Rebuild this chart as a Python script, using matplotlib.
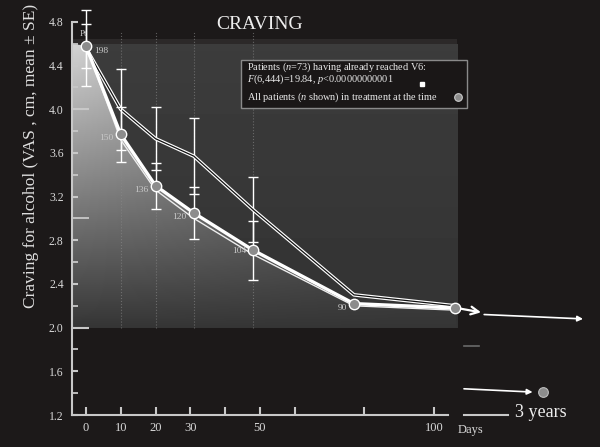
import numpy as np
import matplotlib
matplotlib.use("Agg")
from matplotlib import pyplot as plt
from matplotlib.patches import Polygon, Rectangle

plt.rcParams['font.family'] = ['Liberation Serif', 'DejaVu Serif']
plt.rcParams['mathtext.fontset'] = 'custom'
plt.rcParams['mathtext.it'] = 'Liberation Serif:italic'
plt.rcParams['mathtext.rm'] = 'Liberation Serif'

# visits (days) and craving values
days = [0, 10, 20, 31, 48, 77, 106]
all_mean = [4.58, 3.77, 3.30, 3.05, 2.71, 2.22, 2.18]
all_se = [0.20, 0.25, 0.21, 0.24, 0.27, 0.0, 0.0]
all_n = ['198', '150', '136', '120', '104', '90']
fit_mean = [4.58, 3.72, 3.26, 3.00, 2.67, 2.20, 2.16]
v6_mean = [4.56, 4.00, 3.73, 3.57, 3.08, 2.30, 2.20]
v6_se = [0.35, 0.37, 0.29, 0.35, 0.30, 0.0, 0.0]
three_year_mean = 1.41
three_year_x = 131.3

xticks = [0, 10, 20, 30, 40, 50, 60, 80, 100]
xticklabels = ['0', '10', '20', '30', '', '50', '', '', '100']
yticks = [1.2, 1.6, 2.0, 2.4, 2.8, 3.2, 3.6, 4.0, 4.4, 4.8]
yminor = [1.4, 1.8, 2.2, 2.6, 3.0, 3.4, 3.8, 4.2, 4.6]
long_ticks = [2.0, 3.0, 4.0]

BG = '#1c1919'
FG = '#d8d8d8'

fig = plt.figure(figsize=(6, 4.47), dpi=100, facecolor=BG)
ax = fig.add_axes([72 / 600, 32 / 447, 518 / 600, 415 / 447])
ax.set_facecolor(BG)
ax.set_xlim(-4.0, 144.8)
ax.set_ylim(1.2, 5.0)

# grey panel behind the curves
x0, x1, y0, y1 = -4.6, 106.6, 2.0, 4.6
panel = np.linspace(0.235, 0.20, 60)[:, None] * np.ones((60, 10))
ax.imshow(panel, cmap='gray', vmin=0, vmax=1, extent=(x0, x1, y0, y1),
          aspect='auto', zorder=0, interpolation='bicubic')
ax.axhspan(4.6, 4.64, xmin=0, xmax=(x1 + 4.0) / 148.8, color='#2c2929', lw=0, zorder=0)

# light gradient under the all-patients curve
u = np.linspace(0, 1, 300)[None, :]
w = np.linspace(0, 1, 150)[:, None]
shade = np.clip(0.21 + 0.62 * (1 - w) * (1 - 0.6 * u), 0, 1)
poly_pts = [(x0, y1)] + list(zip(days, all_mean)) + [(x1, y0), (x0, y0)]
clip = Polygon(poly_pts, closed=True, transform=ax.transData,
               facecolor='none', edgecolor='none')
ax.add_patch(clip)
im = ax.imshow(shade, cmap='gray', vmin=0, vmax=1, extent=(x0, x1, y0, y1),
               aspect='auto', zorder=0.5, interpolation='bicubic')
im.set_clip_path(clip)

# dotted visit guides
for d in days[1:5]:
    ax.plot([d, d], [2.0, 4.72], ls=':', lw=0.8, color='#8a8a8a', alpha=0.6, zorder=1)

# patients having reached V6
ax.errorbar(days[:5], v6_mean[:5], yerr=v6_se[:5], fmt='none', ecolor='white',
            elinewidth=1, capsize=3.5, capthick=1, zorder=3)
ax.plot(days, v6_mean, color='white', lw=2.6, zorder=3, solid_capstyle='round')
ax.plot(days, v6_mean, color='#111111', lw=0.9, zorder=3.1)

# all patients in treatment
ax.errorbar(days[:5], all_mean[:5], yerr=all_se[:5], fmt='none', ecolor='white',
            elinewidth=1, capsize=3.5, capthick=1, zorder=4)
ax.plot(days, fit_mean, color='#eeeeee', lw=1.0, zorder=4)
ax.plot(days, all_mean, color='white', lw=2.4, zorder=4.2)
ax.plot(days, all_mean, ls='none', marker='o', ms=7.5, mfc='#8c8c8c', mec='white',
        mew=1.0, zorder=5)

offsets = [(6, -4, 'left'), (-5, -3, 'right'), (-5, -3, 'right'),
           (-5, -3, 'right'), (-5, -1, 'right'), (-5, -3, 'right')]
for (d, m, n, (dx, dy, ha)) in zip(days, all_mean, all_n, offsets):
    ax.annotate(n, (d, m), xytext=(dx, dy), textcoords='offset points',
                ha=ha, va='center', fontsize=6.8, color='#c8c8c8', zorder=6)
ax.text(-1.8, 4.69, 'Pt', fontsize=6.5, color='#c8c8c8', ha='left', va='center', zorder=6)

# continuation arrows and the 3-year point
ax.annotate('', xy=(113.5, 2.14), xytext=(106.5, 2.18),
            arrowprops=dict(arrowstyle='->', color='white', lw=1.6,
                            mutation_scale=14, shrinkA=0, shrinkB=0))
ax.annotate('', xy=(142.8, 2.08), xytext=(114.4, 2.12),
            arrowprops=dict(arrowstyle='-|>', color='white', lw=1.2,
                            mutation_scale=8, shrinkA=0, shrinkB=0))
ax.annotate('', xy=(128.3, 1.41), xytext=(108.6, 1.44),
            arrowprops=dict(arrowstyle='-|>', color='white', lw=1.2,
                            mutation_scale=8, shrinkA=0, shrinkB=0))
ax.plot([three_year_x], [three_year_mean], ls='none', marker='o', ms=7, mfc='#8c8c8c',
        mec='#bbbbbb', mew=0.8, zorder=5)
ax.plot([108.6, 113.0], [1.83, 1.83], color='#6a6a6a', lw=1.2)

# axes
for s in ['top', 'right']:
    ax.spines[s].set_visible(False)
ax.spines['left'].set_bounds(1.2, 4.8)
ax.spines['bottom'].set_bounds(-4.0, 104.0)
for s in ['left', 'bottom']:
    ax.spines[s].set_color('#c8c8c8')
    ax.spines[s].set_linewidth(1.5)
ax.plot([108.6, 121.3], [1.2, 1.2], color='#c8c8c8', lw=1.5, clip_on=False)

ax.set_xticks(xticks)
ax.set_xticklabels(xticklabels)
ax.tick_params(axis='x', direction='in', length=6, width=1.5, colors='#c8c8c8',
               labelcolor=FG, labelsize=9, pad=5)
ax.set_yticks(yticks)
ax.set_yticklabels(['%.1f' % v for v in yticks])
ax.set_yticks(yminor, minor=True)
ax.tick_params(axis='y', which='major', direction='in', length=4.5, width=1.5,
               colors='#c8c8c8', labelcolor=FG, labelsize=8.5, pad=6)
ax.tick_params(axis='y', which='minor', direction='in', length=4.5, width=1.3,
               colors='#c8c8c8')
for t, v in zip(ax.yaxis.get_major_ticks(), yticks):
    if v in long_ticks:
        t.tick1line.set_markersize(12)
for t, v in zip(ax.yaxis.get_minor_ticks(), yminor):
    if v in long_ticks:
        t.tick1line.set_markersize(12)

ax.set_ylabel('Craving for alcohol (VAS , cm, mean ± SE)', fontsize=12.5,
              color='#e0e0e0')
ax.yaxis.set_label_coords(-0.064, 0.624)

ax.text(0.363, 0.94, 'CRAVING', transform=ax.transAxes, fontsize=14,
        color='#eeeeee', ha='center', va='center')
ax.text(110.5, 1.06, 'Days', fontsize=9, color=FG, ha='center', va='center')
ax.text(123.2, 1.22, '3 years', fontsize=13, color='#eeeeee', ha='left', va='center')

# legend box
box = Rectangle((44.5, 4.01), 65.0, 0.44, transform=ax.transData,
                facecolor='#1a1717', edgecolor='#8a8a8a', lw=1.0, zorder=6)
ax.add_patch(box)
ax.text(46.2, 4.385, 'Patients ($n$=73) having already reached V6:', fontsize=7.4,
        color='#e8e8e8', ha='left', va='center', zorder=7)
ax.text(46.2, 4.27, '$F$(6,444)=19.84, $p$<0.00000000001', fontsize=7.4,
        color='#e8e8e8', ha='left', va='center', zorder=7)
ax.plot([96.5], [4.23], ls='none', marker='s', ms=2.2, color='white', zorder=7)
ax.text(46.2, 4.11, 'All patients ($n$ shown) in treatment at the time', fontsize=7.4,
        color='#e8e8e8', ha='left', va='center', zorder=7)
ax.plot([107.0], [4.11], ls='none', marker='o', ms=5.5, mfc='#8c8c8c', mec='#cccccc',
        mew=0.8, zorder=7, clip_on=False)

fig.savefig('out.png', dpi=100, facecolor=BG)
